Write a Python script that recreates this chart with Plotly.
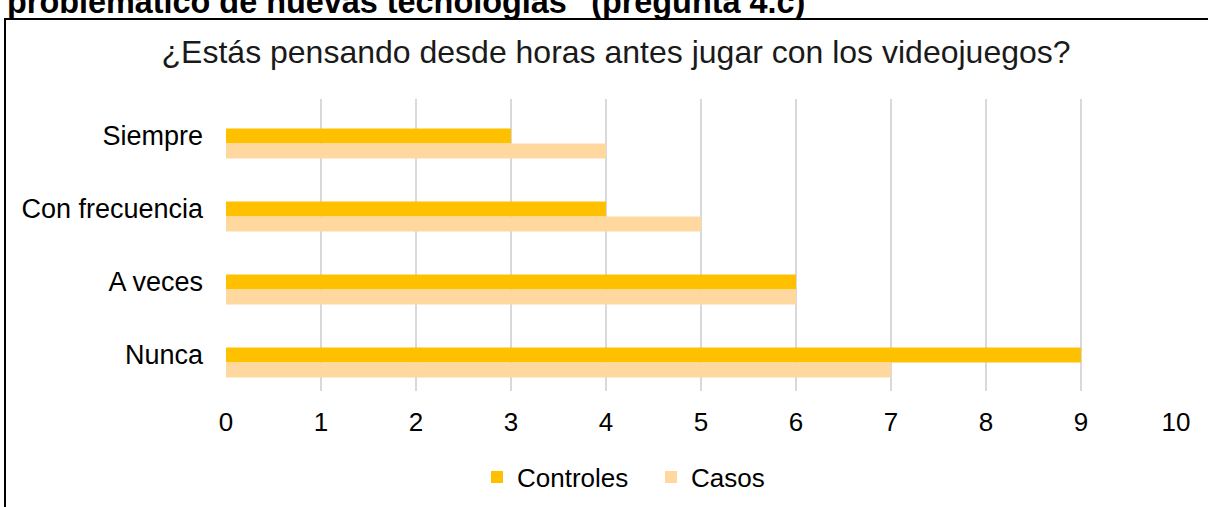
import plotly.graph_objects as go

# categorias (de arriba a abajo) y valores
categorias = ["Siempre", "Con frecuencia", "A veces", "Nunca"]
controles = [3, 4, 6, 9]
casos = [4, 5, 6, 7]
ticks_x = [0, 1, 2, 3, 4, 5, 6, 7, 8, 9, 10]

titulo = "¿Estás pensando desde horas antes jugar con los videojuegos?"
texto_cortado = "problemático de nuevas tecnologías\" (pregunta 4.c)"

fuente = "Liberation Sans, Arial, sans-serif"

# area de trazado en px: x 226..1176, y 99..391 (banda por categoria = 73 px)
L, R, T, B = 226, 1176, 99, 391
W, H = R - L, B - T
banda = H / len(categorias)
grosor = 15 / banda  # grosor de cada barra en unidades de categoria

fig = go.Figure()
fig.add_trace(go.Bar(
    y=categorias, x=controles, orientation="h", name="Controles",
    width=grosor, offset=-7 / banda,
    marker=dict(color="#FFC000", line=dict(width=0)),
))
fig.add_trace(go.Bar(
    y=categorias, x=casos, orientation="h", name="Casos",
    width=grosor, offset=8 / banda,
    marker=dict(color="#FFD8A0", line=dict(width=0)),
))

def px(x):
    return (x - L) / W
def py(y):
    return (B - y) / H

# marco del cuadro (se sale por la derecha y por abajo)
fig.add_shape(type="rect", xref="paper", yref="paper",
              x0=px(5), x1=px(1230), y0=py(530), y1=py(19),
              line=dict(color="black", width=2), fillcolor="rgba(0,0,0,0)")

# texto cortado arriba
fig.add_annotation(xref="paper", yref="paper", x=px(5), y=py(22),
                   xanchor="left", yanchor="bottom", showarrow=False,
                   text="<b>" + texto_cortado + "</b>",
                   font=dict(family=fuente, size=32.4, color="black"))

fig.update_layout(
    width=1208, height=507,
    margin=dict(l=L, r=1208 - R, t=T, b=507 - B),
    paper_bgcolor="white", plot_bgcolor="white",
    barmode="overlay",
    font=dict(family=fuente, size=26, color="black"),
    title=dict(text=titulo, x=0.51, xanchor="center", y=1 - 52 / 507, yanchor="middle",
               font=dict(family=fuente, size=32, color="#1a1a1a")),
    showlegend=True,
    legend=dict(orientation="h", x=477 / 1208, xanchor="left", xref="container",
                y=1 - 477 / 507, yref="container", yanchor="middle",
                font=dict(size=26), itemwidth=30, tracegroupgap=0,
                entrywidth=129, entrywidthmode="pixels"),
)
fig.update_xaxes(range=[0, 10], tickvals=ticks_x, showgrid=True, gridcolor="#D9D9D9",
                 gridwidth=1.5, zeroline=False, showline=False, ticks="",
                 ticklabelstandoff=13, tickfont=dict(size=26))
fig.update_yaxes(autorange="reversed", showgrid=False, zeroline=False, showline=False,
                 ticks="", ticklabelstandoff=22, tickfont=dict(size=27))

fig.write_html("out.html", config={"displayModeBar": False},
               post_script="document.body.style.margin = '0';")
